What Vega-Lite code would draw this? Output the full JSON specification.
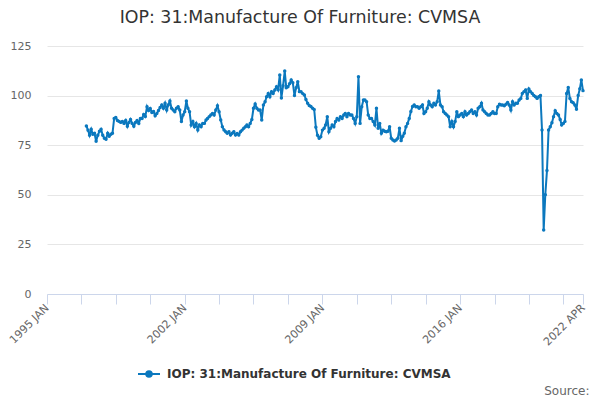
{
  "$schema": "https://vega.github.io/schema/vega-lite/v6.json",
  "width": 536,
  "height": 248,
  "autosize": "none",
  "padding": {"left": 47, "top": 46, "right": 17, "bottom": 106},
  "title": {
    "text": "IOP: 31:Manufacture Of Furniture: CVMSA",
    "anchor": "middle",
    "dx": -15,
    "offset": 14,
    "font": "DejaVu Sans",
    "fontSize": 17.4,
    "fontWeight": "normal",
    "color": "#333333"
  },
  "data": {
    "values": [
      {"date": "1997-01-01", "value": 84.7}, {"date": "1997-02-01", "value": 82.5}, {"date": "1997-03-01", "value": 80}, {"date": "1997-04-01", "value": 83}, {"date": "1997-05-01", "value": 80.5}, {"date": "1997-06-01", "value": 81}, {"date": "1997-07-01", "value": 77}, {"date": "1997-08-01", "value": 80}, {"date": "1997-09-01", "value": 82}, {"date": "1997-10-01", "value": 83}, {"date": "1997-11-01", "value": 80}, {"date": "1997-12-01", "value": 78.5},
      {"date": "1998-01-01", "value": 78}, {"date": "1998-02-01", "value": 81}, {"date": "1998-03-01", "value": 79.5}, {"date": "1998-04-01", "value": 80.5}, {"date": "1998-05-01", "value": 81}, {"date": "1998-06-01", "value": 88.5}, {"date": "1998-07-01", "value": 89}, {"date": "1998-08-01", "value": 87.5}, {"date": "1998-09-01", "value": 87}, {"date": "1998-10-01", "value": 86.5}, {"date": "1998-11-01", "value": 87}, {"date": "1998-12-01", "value": 86},
      {"date": "1999-01-01", "value": 87.5}, {"date": "1999-02-01", "value": 84.5}, {"date": "1999-03-01", "value": 86.5}, {"date": "1999-04-01", "value": 88}, {"date": "1999-05-01", "value": 86}, {"date": "1999-06-01", "value": 84.5}, {"date": "1999-07-01", "value": 86.5}, {"date": "1999-08-01", "value": 87.5}, {"date": "1999-09-01", "value": 86}, {"date": "1999-10-01", "value": 88.5}, {"date": "1999-11-01", "value": 88.5}, {"date": "1999-12-01", "value": 90.5},
      {"date": "2000-01-01", "value": 89.5}, {"date": "2000-02-01", "value": 94.4}, {"date": "2000-03-01", "value": 92.5}, {"date": "2000-04-01", "value": 93.5}, {"date": "2000-05-01", "value": 91.5}, {"date": "2000-06-01", "value": 92}, {"date": "2000-07-01", "value": 89.8}, {"date": "2000-08-01", "value": 91}, {"date": "2000-09-01", "value": 92.5}, {"date": "2000-10-01", "value": 94}, {"date": "2000-11-01", "value": 95.3}, {"date": "2000-12-01", "value": 93.6},
      {"date": "2001-01-01", "value": 96.1}, {"date": "2001-02-01", "value": 92.7}, {"date": "2001-03-01", "value": 95.3}, {"date": "2001-04-01", "value": 97.3}, {"date": "2001-05-01", "value": 93.6}, {"date": "2001-06-01", "value": 92.7}, {"date": "2001-07-01", "value": 91.9}, {"date": "2001-08-01", "value": 93.6}, {"date": "2001-09-01", "value": 94.4}, {"date": "2001-10-01", "value": 92.7}, {"date": "2001-11-01", "value": 86.9}, {"date": "2001-12-01", "value": 90.2},
      {"date": "2002-01-01", "value": 91.9}, {"date": "2002-02-01", "value": 97.3}, {"date": "2002-03-01", "value": 93.6}, {"date": "2002-04-01", "value": 91.9}, {"date": "2002-05-01", "value": 85.2}, {"date": "2002-06-01", "value": 86.9}, {"date": "2002-07-01", "value": 84.3}, {"date": "2002-08-01", "value": 86}, {"date": "2002-09-01", "value": 82.7}, {"date": "2002-10-01", "value": 85.2}, {"date": "2002-11-01", "value": 84.3}, {"date": "2002-12-01", "value": 86},
      {"date": "2003-01-01", "value": 86}, {"date": "2003-02-01", "value": 87.7}, {"date": "2003-03-01", "value": 88.5}, {"date": "2003-04-01", "value": 89.4}, {"date": "2003-05-01", "value": 90.2}, {"date": "2003-06-01", "value": 91}, {"date": "2003-07-01", "value": 90.2}, {"date": "2003-08-01", "value": 92.7}, {"date": "2003-09-01", "value": 94.9}, {"date": "2003-10-01", "value": 91.9}, {"date": "2003-11-01", "value": 87.7}, {"date": "2003-12-01", "value": 84.3},
      {"date": "2004-01-01", "value": 82.7}, {"date": "2004-02-01", "value": 81.8}, {"date": "2004-03-01", "value": 81}, {"date": "2004-04-01", "value": 81.8}, {"date": "2004-05-01", "value": 80.1}, {"date": "2004-06-01", "value": 81}, {"date": "2004-07-01", "value": 81.8}, {"date": "2004-08-01", "value": 80.1}, {"date": "2004-09-01", "value": 80.9}, {"date": "2004-10-01", "value": 80.1}, {"date": "2004-11-01", "value": 81.8}, {"date": "2004-12-01", "value": 82.6},
      {"date": "2005-01-01", "value": 83.5}, {"date": "2005-02-01", "value": 84.3}, {"date": "2005-03-01", "value": 85.2}, {"date": "2005-04-01", "value": 84.3}, {"date": "2005-05-01", "value": 86}, {"date": "2005-06-01", "value": 88}, {"date": "2005-07-01", "value": 93.6}, {"date": "2005-08-01", "value": 95.8}, {"date": "2005-09-01", "value": 93.6}, {"date": "2005-10-01", "value": 92.7}, {"date": "2005-11-01", "value": 92.7}, {"date": "2005-12-01", "value": 87.7},
      {"date": "2006-01-01", "value": 95.3}, {"date": "2006-02-01", "value": 96.9}, {"date": "2006-03-01", "value": 99.4}, {"date": "2006-04-01", "value": 101.1}, {"date": "2006-05-01", "value": 99.4}, {"date": "2006-06-01", "value": 102}, {"date": "2006-07-01", "value": 101.1}, {"date": "2006-08-01", "value": 102.8}, {"date": "2006-09-01", "value": 104.5}, {"date": "2006-10-01", "value": 103}, {"date": "2006-11-01", "value": 110.4}, {"date": "2006-12-01", "value": 98.8},
      {"date": "2007-01-01", "value": 105}, {"date": "2007-02-01", "value": 112.4}, {"date": "2007-03-01", "value": 104}, {"date": "2007-04-01", "value": 104.5}, {"date": "2007-05-01", "value": 106}, {"date": "2007-06-01", "value": 107.9}, {"date": "2007-07-01", "value": 106.5}, {"date": "2007-08-01", "value": 100}, {"date": "2007-09-01", "value": 104}, {"date": "2007-10-01", "value": 107}, {"date": "2007-11-01", "value": 102}, {"date": "2007-12-01", "value": 101.9},
      {"date": "2008-01-01", "value": 101}, {"date": "2008-02-01", "value": 100.3}, {"date": "2008-03-01", "value": 98}, {"date": "2008-04-01", "value": 96.1}, {"date": "2008-05-01", "value": 95}, {"date": "2008-06-01", "value": 94.5}, {"date": "2008-07-01", "value": 93.6}, {"date": "2008-08-01", "value": 93}, {"date": "2008-09-01", "value": 84}, {"date": "2008-10-01", "value": 80}, {"date": "2008-11-01", "value": 78.5}, {"date": "2008-12-01", "value": 79.3},
      {"date": "2009-01-01", "value": 82.6}, {"date": "2009-02-01", "value": 83.5}, {"date": "2009-03-01", "value": 85.2}, {"date": "2009-04-01", "value": 89.4}, {"date": "2009-05-01", "value": 81.8}, {"date": "2009-06-01", "value": 83.5}, {"date": "2009-07-01", "value": 85.2}, {"date": "2009-08-01", "value": 84.3}, {"date": "2009-09-01", "value": 86.9}, {"date": "2009-10-01", "value": 88.5}, {"date": "2009-11-01", "value": 87.7}, {"date": "2009-12-01", "value": 89.4},
      {"date": "2010-01-01", "value": 88.5}, {"date": "2010-02-01", "value": 90.2}, {"date": "2010-03-01", "value": 91}, {"date": "2010-04-01", "value": 89.4}, {"date": "2010-05-01", "value": 91}, {"date": "2010-06-01", "value": 90.2}, {"date": "2010-07-01", "value": 90.2}, {"date": "2010-08-01", "value": 88.5}, {"date": "2010-09-01", "value": 86}, {"date": "2010-10-01", "value": 89.4}, {"date": "2010-11-01", "value": 109.5}, {"date": "2010-12-01", "value": 86},
      {"date": "2011-01-01", "value": 94.4}, {"date": "2011-02-01", "value": 97.8}, {"date": "2011-03-01", "value": 97.8}, {"date": "2011-04-01", "value": 96.9}, {"date": "2011-05-01", "value": 90.2}, {"date": "2011-06-01", "value": 88.5}, {"date": "2011-07-01", "value": 88.5}, {"date": "2011-08-01", "value": 86.9}, {"date": "2011-09-01", "value": 85.2}, {"date": "2011-10-01", "value": 93.6}, {"date": "2011-11-01", "value": 83.5}, {"date": "2011-12-01", "value": 86},
      {"date": "2012-01-01", "value": 81}, {"date": "2012-02-01", "value": 82.6}, {"date": "2012-03-01", "value": 82}, {"date": "2012-04-01", "value": 81.8}, {"date": "2012-05-01", "value": 82}, {"date": "2012-06-01", "value": 84.3}, {"date": "2012-07-01", "value": 78.5}, {"date": "2012-08-01", "value": 77.6}, {"date": "2012-09-01", "value": 77.1}, {"date": "2012-10-01", "value": 77.6}, {"date": "2012-11-01", "value": 78.5}, {"date": "2012-12-01", "value": 83.5},
      {"date": "2013-01-01", "value": 77.3}, {"date": "2013-02-01", "value": 79.5}, {"date": "2013-03-01", "value": 81}, {"date": "2013-04-01", "value": 84.3}, {"date": "2013-05-01", "value": 86}, {"date": "2013-06-01", "value": 88.5}, {"date": "2013-07-01", "value": 92}, {"date": "2013-08-01", "value": 94.5}, {"date": "2013-09-01", "value": 95.3}, {"date": "2013-10-01", "value": 94.4}, {"date": "2013-11-01", "value": 94.4}, {"date": "2013-12-01", "value": 93.6},
      {"date": "2014-01-01", "value": 94.4}, {"date": "2014-02-01", "value": 95.3}, {"date": "2014-03-01", "value": 91}, {"date": "2014-04-01", "value": 91.9}, {"date": "2014-05-01", "value": 93.6}, {"date": "2014-06-01", "value": 96.9}, {"date": "2014-07-01", "value": 95.3}, {"date": "2014-08-01", "value": 94.4}, {"date": "2014-09-01", "value": 96.1}, {"date": "2014-10-01", "value": 95.3}, {"date": "2014-11-01", "value": 96.9}, {"date": "2014-12-01", "value": 102.3},
      {"date": "2015-01-01", "value": 95.3}, {"date": "2015-02-01", "value": 94.4}, {"date": "2015-03-01", "value": 91.9}, {"date": "2015-04-01", "value": 91}, {"date": "2015-05-01", "value": 90.2}, {"date": "2015-06-01", "value": 89.4}, {"date": "2015-07-01", "value": 84.3}, {"date": "2015-08-01", "value": 86.9}, {"date": "2015-09-01", "value": 84.3}, {"date": "2015-10-01", "value": 86.9}, {"date": "2015-11-01", "value": 91.9}, {"date": "2015-12-01", "value": 89.4},
      {"date": "2016-01-01", "value": 90.2}, {"date": "2016-02-01", "value": 91}, {"date": "2016-03-01", "value": 89.4}, {"date": "2016-04-01", "value": 91.9}, {"date": "2016-05-01", "value": 90.2}, {"date": "2016-06-01", "value": 91}, {"date": "2016-07-01", "value": 91.9}, {"date": "2016-08-01", "value": 92.7}, {"date": "2016-09-01", "value": 91}, {"date": "2016-10-01", "value": 91.9}, {"date": "2016-11-01", "value": 90.2}, {"date": "2016-12-01", "value": 93.6},
      {"date": "2017-01-01", "value": 94.4}, {"date": "2017-02-01", "value": 96.1}, {"date": "2017-03-01", "value": 92.7}, {"date": "2017-04-01", "value": 91.9}, {"date": "2017-05-01", "value": 91}, {"date": "2017-06-01", "value": 90.2}, {"date": "2017-07-01", "value": 90.2}, {"date": "2017-08-01", "value": 91}, {"date": "2017-09-01", "value": 91.9}, {"date": "2017-10-01", "value": 91}, {"date": "2017-11-01", "value": 91}, {"date": "2017-12-01", "value": 94.4},
      {"date": "2018-01-01", "value": 95.6}, {"date": "2018-02-01", "value": 95.3}, {"date": "2018-03-01", "value": 95.3}, {"date": "2018-04-01", "value": 94.9}, {"date": "2018-05-01", "value": 95.6}, {"date": "2018-06-01", "value": 96.5}, {"date": "2018-07-01", "value": 95.3}, {"date": "2018-08-01", "value": 92.7}, {"date": "2018-09-01", "value": 96.9}, {"date": "2018-10-01", "value": 95.3}, {"date": "2018-11-01", "value": 96.1}, {"date": "2018-12-01", "value": 96.1},
      {"date": "2019-01-01", "value": 97.8}, {"date": "2019-02-01", "value": 98.6}, {"date": "2019-03-01", "value": 101.1}, {"date": "2019-04-01", "value": 102}, {"date": "2019-05-01", "value": 102.8}, {"date": "2019-06-01", "value": 98.6}, {"date": "2019-07-01", "value": 103.3}, {"date": "2019-08-01", "value": 102}, {"date": "2019-09-01", "value": 101.1}, {"date": "2019-10-01", "value": 100}, {"date": "2019-11-01", "value": 99.4}, {"date": "2019-12-01", "value": 98.6},
      {"date": "2020-01-01", "value": 99.4}, {"date": "2020-02-01", "value": 100}, {"date": "2020-03-01", "value": 82.7}, {"date": "2020-04-01", "value": 32.3}, {"date": "2020-05-01", "value": 50}, {"date": "2020-06-01", "value": 62.2}, {"date": "2020-07-01", "value": 82.7}, {"date": "2020-08-01", "value": 84.3}, {"date": "2020-09-01", "value": 86.3}, {"date": "2020-10-01", "value": 89.4}, {"date": "2020-11-01", "value": 92.4}, {"date": "2020-12-01", "value": 91},
      {"date": "2021-01-01", "value": 90.2}, {"date": "2021-02-01", "value": 88}, {"date": "2021-03-01", "value": 85.2}, {"date": "2021-04-01", "value": 86}, {"date": "2021-05-01", "value": 87}, {"date": "2021-06-01", "value": 101.1}, {"date": "2021-07-01", "value": 104.1}, {"date": "2021-08-01", "value": 98.5}, {"date": "2021-09-01", "value": 96.9}, {"date": "2021-10-01", "value": 96.4}, {"date": "2021-11-01", "value": 95.3}, {"date": "2021-12-01", "value": 93.1},
      {"date": "2022-01-01", "value": 100}, {"date": "2022-02-01", "value": 103.4}, {"date": "2022-03-01", "value": 107.9}, {"date": "2022-04-01", "value": 102.5}
    ]
  },
  "mark": {"type": "line", "strokeWidth": 2, "point": {"filled": true, "size": 12}},
  "encoding": {
    "x": {
      "field": "date",
      "type": "temporal",
      "scale": {
        "type": "utc",
        "domain": [{"year": 1995, "month": 1, "date": 1, "utc": true}, {"year": 2022, "month": 4, "date": 1, "utc": true}]
      },
      "axis": {
        "title": "Source:",
        "titleX": 542,
        "titleY": 96,
        "titleAlign": "right",
        "titleBaseline": "middle",
        "titleFont": "DejaVu Sans",
        "titleFontSize": 12,
        "titleFontWeight": "normal",
        "titleColor": "#666666",
        "values": [
          {"year": 1995, "month": 1, "date": 1, "utc": true},
          {"year": 1996, "month": 10, "date": 1, "utc": true},
          {"year": 1998, "month": 7, "date": 1, "utc": true},
          {"year": 2000, "month": 4, "date": 1, "utc": true},
          {"year": 2002, "month": 1, "date": 1, "utc": true},
          {"year": 2003, "month": 10, "date": 1, "utc": true},
          {"year": 2005, "month": 7, "date": 1, "utc": true},
          {"year": 2007, "month": 4, "date": 1, "utc": true},
          {"year": 2009, "month": 1, "date": 1, "utc": true},
          {"year": 2010, "month": 10, "date": 1, "utc": true},
          {"year": 2012, "month": 7, "date": 1, "utc": true},
          {"year": 2014, "month": 4, "date": 1, "utc": true},
          {"year": 2016, "month": 1, "date": 1, "utc": true},
          {"year": 2017, "month": 10, "date": 1, "utc": true},
          {"year": 2019, "month": 7, "date": 1, "utc": true},
          {"year": 2021, "month": 4, "date": 1, "utc": true},
          {"year": 2022, "month": 4, "date": 1, "utc": true}
        ],
        "labelExpr": "indexof(['1995 JAN','2002 JAN','2009 JAN','2016 JAN','2022 APR'], upper(utcFormat(datum.value, '%Y %b'))) >= 0 ? upper(utcFormat(datum.value, '%Y %b')) : ''",
        "labelAngle": -45,
        "labelAlign": "right",
        "labelBaseline": "middle",
        "labelPadding": 2,
        "labelOverlap": false,
        "labelFlush": false,
        "labelColor": "#666666",
        "labelFont": "DejaVu Sans",
        "labelFontSize": 11,
        "tickColor": "#ccd6eb",
        "tickSize": 10,
        "domainColor": "#ccd6eb",
        "grid": false
      }
    },
    "y": {
      "field": "value",
      "type": "quantitative",
      "scale": {"domain": [0, 125], "nice": false},
      "axis": {
        "title": null,
        "values": [0, 25, 50, 75, 100, 125],
        "domain": false,
        "ticks": false,
        "tickSize": 0,
        "labelPadding": 16,
        "labelColor": "#666666",
        "labelFont": "DejaVu Sans",
        "labelFontSize": 11,
        "gridColor": "#e6e6e6"
      }
    },
    "color": {
      "datum": "IOP: 31:Manufacture Of Furniture: CVMSA",
      "type": "nominal",
      "scale": {"range": ["#0b78be"]},
      "legend": {
        "title": null,
        "orient": "none",
        "legendX": 90,
        "legendY": 316,
        "symbolType": "M-1,0H1M-0.25,0A0.25,0.25,0,1,0,0.25,0A0.25,0.25,0,1,0,-0.25,0Z",
        "symbolSize": 484,
        "symbolStrokeWidth": 2,
        "symbolFillColor": "#0b78be",
        "labelFont": "DejaVu Sans",
        "labelFontSize": 12,
        "labelFontWeight": "bold",
        "labelColor": "#333333",
        "labelOffset": 6,
        "labelLimit": 0
      }
    }
  },
  "config": {
    "view": {"stroke": null},
    "font": "DejaVu Sans"
  }
}
